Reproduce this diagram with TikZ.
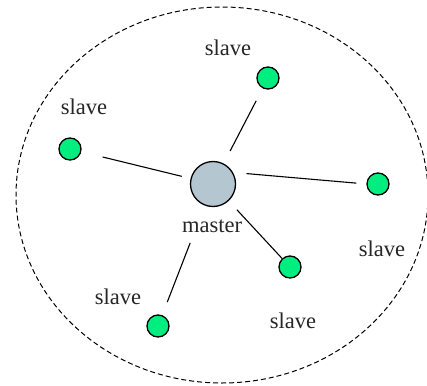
\documentclass[tikz,border=0pt]{standalone}
\usepackage{fontspec}
\setmainfont{Liberation Serif}
\definecolor{slavegreen}{RGB}{0,238,128}
\definecolor{mastergray}{RGB}{180,198,208}
\begin{document}
\begin{tikzpicture}[x=1pt,y=-1pt,
  slavenode/.style={circle,draw,line width=1.3pt,fill=slavegreen,minimum size=22pt,inner sep=0pt},
  masternode/.style={circle,draw,line width=1.3pt,fill=mastergray,minimum size=45pt,inner sep=0pt},
  lbl/.style={font=\fontsize{22.5}{26}\selectfont,text=black!85,inner sep=0pt},
  link/.style={line width=1.1pt}]
\useasboundingbox (0,0) rectangle (427,385);
\draw[dash pattern=on 5pt off 3pt,line width=1pt] (222,195) ellipse [x radius=206pt, y radius=188pt];
\node[masternode] (m) at (213,184) {};
\node[lbl] (ml) at (212,226) {master};
\node[slavenode] (s1) at (268,78) {};
\node[slavenode] (s2) at (70,149) {};
\node[slavenode] (s3) at (378,184) {};
\node[slavenode] (s4) at (290,267) {};
\node[slavenode] (s5) at (158,326) {};
\node[lbl] (l1) at (228,48) {slave};
\node[lbl] (l2) at (84,107) {slave};
\node[lbl] (l3) at (382,249) {slave};
\node[lbl] (l4) at (293,321) {slave};
\node[lbl] (l5) at (118,297) {slave};
\draw[link,shorten <=14pt,shorten >=14pt] (m) -- (s1);
\draw[link,shorten <=9pt,shorten >=22pt] (m) -- (s2);
\draw[link,shorten <=13.5pt,shorten >=10pt] (m.30) -- (s3.west);
\draw[link,shorten <=12pt,shorten >=0pt] (m) -- (s4);
\draw[link,shorten <=40pt,shorten >=14pt] (m) -- (s5);
\end{tikzpicture}
\end{document}
